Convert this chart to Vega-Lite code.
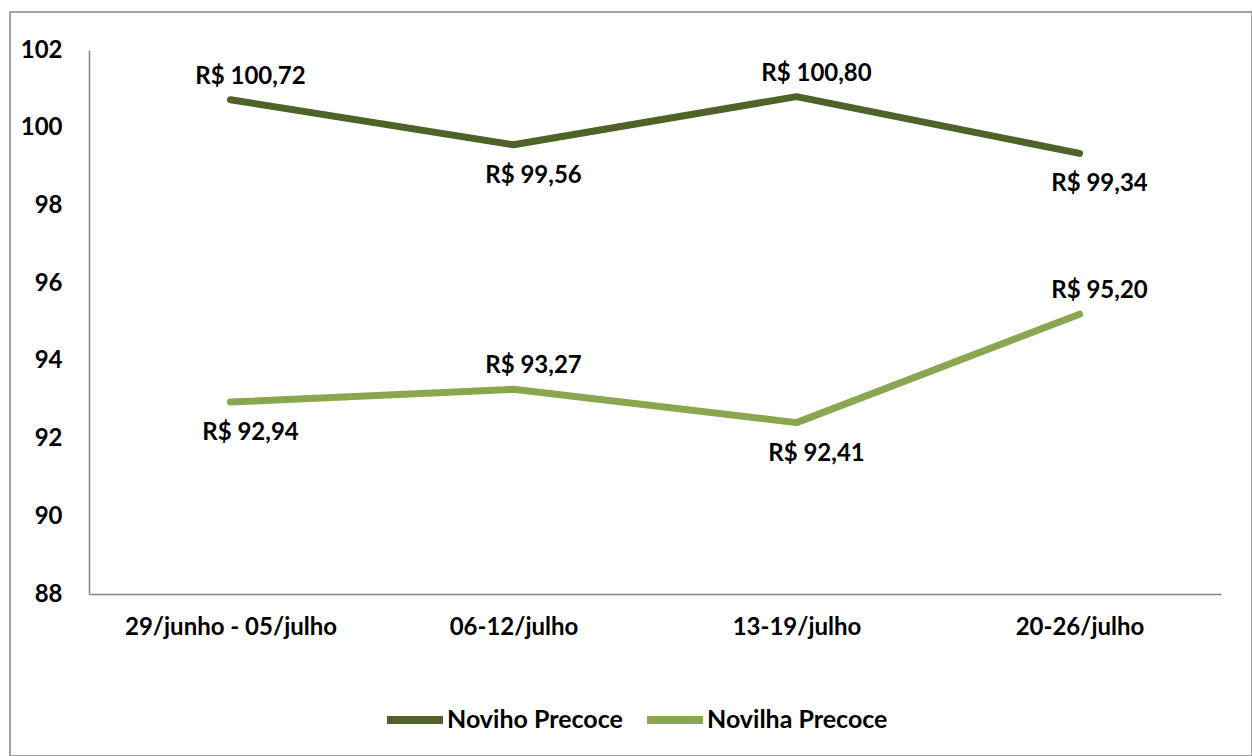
{
  "$schema": "https://vega.github.io/schema/vega-lite/v6.json",
  "width": 1242,
  "height": 744,
  "autosize": "none",
  "padding": {"left": 10, "top": 12, "right": 0, "bottom": 0},
  "background": "white",
  "data": {
    "values": [
      {"semana": "29/junho - 05/julho", "serie": "Noviho Precoce", "valor": 100.72},
      {"semana": "06-12/julho", "serie": "Noviho Precoce", "valor": 99.56},
      {"semana": "13-19/julho", "serie": "Noviho Precoce", "valor": 100.80},
      {"semana": "20-26/julho", "serie": "Noviho Precoce", "valor": 99.34},
      {"semana": "29/junho - 05/julho", "serie": "Novilha Precoce", "valor": 92.94},
      {"semana": "06-12/julho", "serie": "Novilha Precoce", "valor": 93.27},
      {"semana": "13-19/julho", "serie": "Novilha Precoce", "valor": 92.41},
      {"semana": "20-26/julho", "serie": "Novilha Precoce", "valor": 95.20}
    ]
  },
  "transform": [
    {"calculate": "'R$ ' + replace(format(datum.valor, '.2f'), '.', ',')", "as": "rotulo"}
  ],
  "encoding": {
    "x": {
      "field": "semana",
      "type": "nominal",
      "sort": ["29/junho - 05/julho", "06-12/julho", "13-19/julho", "20-26/julho"],
      "scale": {"range": [79, 1211], "paddingInner": 0, "paddingOuter": 0},
      "axis": {
        "title": null,
        "offset": -162,
        "labelAngle": 0,
        "labelLimit": 0,
        "labelPadding": 21,
        "labelFontSize": 24,
        "labelFontWeight": "bold",
        "labelColor": "#000000",
        "ticks": false,
        "domainColor": "#868686",
        "domainWidth": 1.5
      }
    },
    "y": {
      "field": "valor",
      "type": "quantitative",
      "scale": {"domain": [88, 102], "nice": false, "zero": false, "range": [582, 38]},
      "axis": {
        "title": null,
        "offset": -79,
        "values": [88, 90, 92, 94, 96, 98, 100, 102],
        "format": "d",
        "grid": false,
        "ticks": false,
        "labelPadding": 27,
        "labelFontSize": 24,
        "labelFontWeight": "bold",
        "labelColor": "#000000",
        "domainColor": "#868686",
        "domainWidth": 1.5
      }
    },
    "color": {
      "field": "serie",
      "type": "nominal",
      "scale": {
        "domain": ["Noviho Precoce", "Novilha Precoce"],
        "range": ["#4F6228", "#8AA64F"]
      },
      "legend": {
        "title": null,
        "orient": "none",
        "direction": "horizontal",
        "legendX": 373,
        "legendY": 676,
        "symbolType": "stroke",
        "symbolSize": 3136,
        "symbolStrokeWidth": 8,
        "labelFontSize": 25,
        "labelFontWeight": "bold",
        "labelColor": "#000000",
        "labelOffset": 0,
        "labelLimit": 0,
        "columnPadding": 8
      }
    }
  },
  "layer": [
    {
      "mark": {"type": "line", "strokeWidth": 7, "strokeCap": "round", "strokeJoin": "round"}
    },
    {
      "transform": [
        {"filter": "(datum.serie == 'Noviho Precoce' && (datum.semana == '29/junho - 05/julho' || datum.semana == '13-19/julho')) || (datum.serie == 'Novilha Precoce' && (datum.semana == '06-12/julho' || datum.semana == '20-26/julho'))"}
      ],
      "mark": {"type": "text", "dy": -23, "dx": 20, "fontSize": 24, "fontWeight": "bold", "color": "#000000"},
      "encoding": {"text": {"field": "rotulo"}, "color": {"value": "#000000"}}
    },
    {
      "transform": [
        {"filter": "(datum.serie == 'Noviho Precoce' && (datum.semana == '06-12/julho' || datum.semana == '20-26/julho')) || (datum.serie == 'Novilha Precoce' && (datum.semana == '29/junho - 05/julho' || datum.semana == '13-19/julho'))"}
      ],
      "mark": {"type": "text", "dy": 31, "dx": 20, "fontSize": 24, "fontWeight": "bold", "color": "#000000"},
      "encoding": {"text": {"field": "rotulo"}, "color": {"value": "#000000"}}
    }
  ],
  "config": {
    "font": "Lato",
    "view": {"stroke": "#868686", "strokeWidth": 1.5}
  }
}
